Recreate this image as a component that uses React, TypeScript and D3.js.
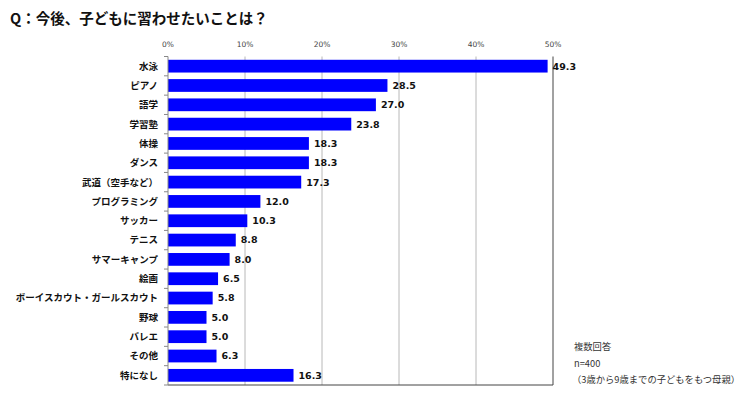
import React, { useEffect, useRef } from "react";
import * as d3 from "d3";

// ── データ ──────────────────────────────────────────────────────────────
const categories = [
  "水泳", "ピアノ", "語学", "学習塾", "体操", "ダンス", "武道（空手など）",
  "プログラミング", "サッカー", "テニス", "サマーキャンプ", "絵画",
  "ボーイスカウト・ガールスカウト", "野球", "バレエ", "その他", "特になし",
];
const values = [49.3, 28.5, 27.0, 23.8, 18.3, 18.3, 17.3, 12.0, 10.3, 8.8, 8.0, 6.5, 5.8, 5.0, 5.0, 6.3, 16.3];
const xTicks = [0, 10, 20, 30, 40, 50];
const title = "Q：今後、子どもに習わせたいことは？";
const notes = ["複数回答", "n=400", "（3歳から9歳までの子どもをもつ母親）"];

const FONT = "'Noto Sans CJK JP', 'Noto Sans', sans-serif";
const NUM_FONT = "'DejaVu Sans', 'Noto Sans CJK JP', sans-serif";

const App: React.FC = () => {
  const svgRef = useRef<SVGSVGElement | null>(null);

  useEffect(() => {
    if (!svgRef.current) return;
    const W = 750, H = 399;
    const M = { top: 56.5, left: 168, right: 197, bottom: 14 };
    const iW = W - M.left - M.right;
    const iH = H - M.top - M.bottom;

    const root = d3.select(svgRef.current);
    root.selectAll("*").remove();
    root.attr("width", W).attr("height", H).attr("viewBox", `0 0 ${W} ${H}`)
      .style("font-family", FONT).style("background", "#fff");

    root.append("text").attr("x", 10).attr("y", 24)
      .attr("font-size", 14.5).attr("font-weight", "bold").attr("fill", "#111")
      .text(title);

    const g = root.append("g").attr("transform", `translate(${M.left},${M.top})`);

    const x = d3.scaleLinear().domain([0, 50]).range([0, iW]);
    const y = d3.scaleBand<string>().domain(categories).range([0, iH]).paddingInner(0.34).paddingOuter(0.17);

    // グリッド
    g.append("g").selectAll("line").data(xTicks.slice(1, -1)).enter().append("line")
      .attr("x1", (d) => x(d)).attr("x2", (d) => x(d))
      .attr("y1", 0).attr("y2", iH)
      .attr("stroke", "#b8b8b8").attr("stroke-width", 1);

    // 右枠・下枠
    g.append("line").attr("x1", x(50)).attr("x2", x(50)).attr("y1", 0).attr("y2", iH)
      .attr("stroke", "#444").attr("stroke-width", 1);
    g.append("line").attr("x1", 0).attr("x2", iW).attr("y1", iH).attr("y2", iH)
      .attr("stroke", "#444").attr("stroke-width", 1);

    // 上の目盛りラベル
    g.append("g").selectAll("text").data(xTicks).enter().append("text")
      .attr("x", (d) => x(d)).attr("y", -10)
      .attr("text-anchor", "middle").attr("font-size", 7.5).attr("fill", "#444")
      .style("font-family", NUM_FONT)
      .text((d) => `${d}%`);

    // 棒
    g.append("g").selectAll("rect").data(values).enter().append("rect")
      .attr("x", 0)
      .attr("y", (_, i) => y(categories[i]) as number)
      .attr("width", (d) => x(d))
      .attr("height", y.bandwidth())
      .attr("fill", "#0000ff");

    // 値ラベル
    g.append("g").selectAll("text").data(values).enter().append("text")
      .attr("x", (d) => x(d) + 5)
      .attr("y", (_, i) => (y(categories[i]) as number) + y.bandwidth() / 2)
      .attr("dy", "0.36em")
      .attr("font-size", 9.5).attr("font-weight", "bold").attr("fill", "#111")
      .style("font-family", NUM_FONT)
      .text((d) => d.toFixed(1));

    // 左軸
    const step = y.step();
    g.append("line").attr("x1", 0).attr("x2", 0).attr("y1", 0).attr("y2", iH)
      .attr("stroke", "#888").attr("stroke-width", 1);
    g.append("g").selectAll("line").data(d3.range(categories.length + 1)).enter().append("line")
      .attr("x1", -4).attr("x2", 0)
      .attr("y1", (i) => i * step).attr("y2", (i) => i * step)
      .attr("stroke", "#888").attr("stroke-width", 1);

    g.append("g").selectAll("text").data(categories).enter().append("text")
      .attr("x", -10)
      .attr("y", (d) => (y(d) as number) + y.bandwidth() / 2)
      .attr("dy", "0.36em").attr("text-anchor", "end")
      .attr("font-size", 9.5).attr("font-weight", "bold").attr("fill", "#111")
      .text((d) => d);

    // 注記
    root.append("g").selectAll("text").data(notes).enter().append("text")
      .attr("x", (_, i) => (i === 2 ? 572 : 574))
      .attr("y", (_, i) => 350 + i * 16.5)
      .attr("font-size", 9.3).attr("fill", "#333")
      .text((d) => d);
  }, []);

  return <svg ref={svgRef} style={{ display: "block", margin: "-8px" }} />;
};

export default App;
